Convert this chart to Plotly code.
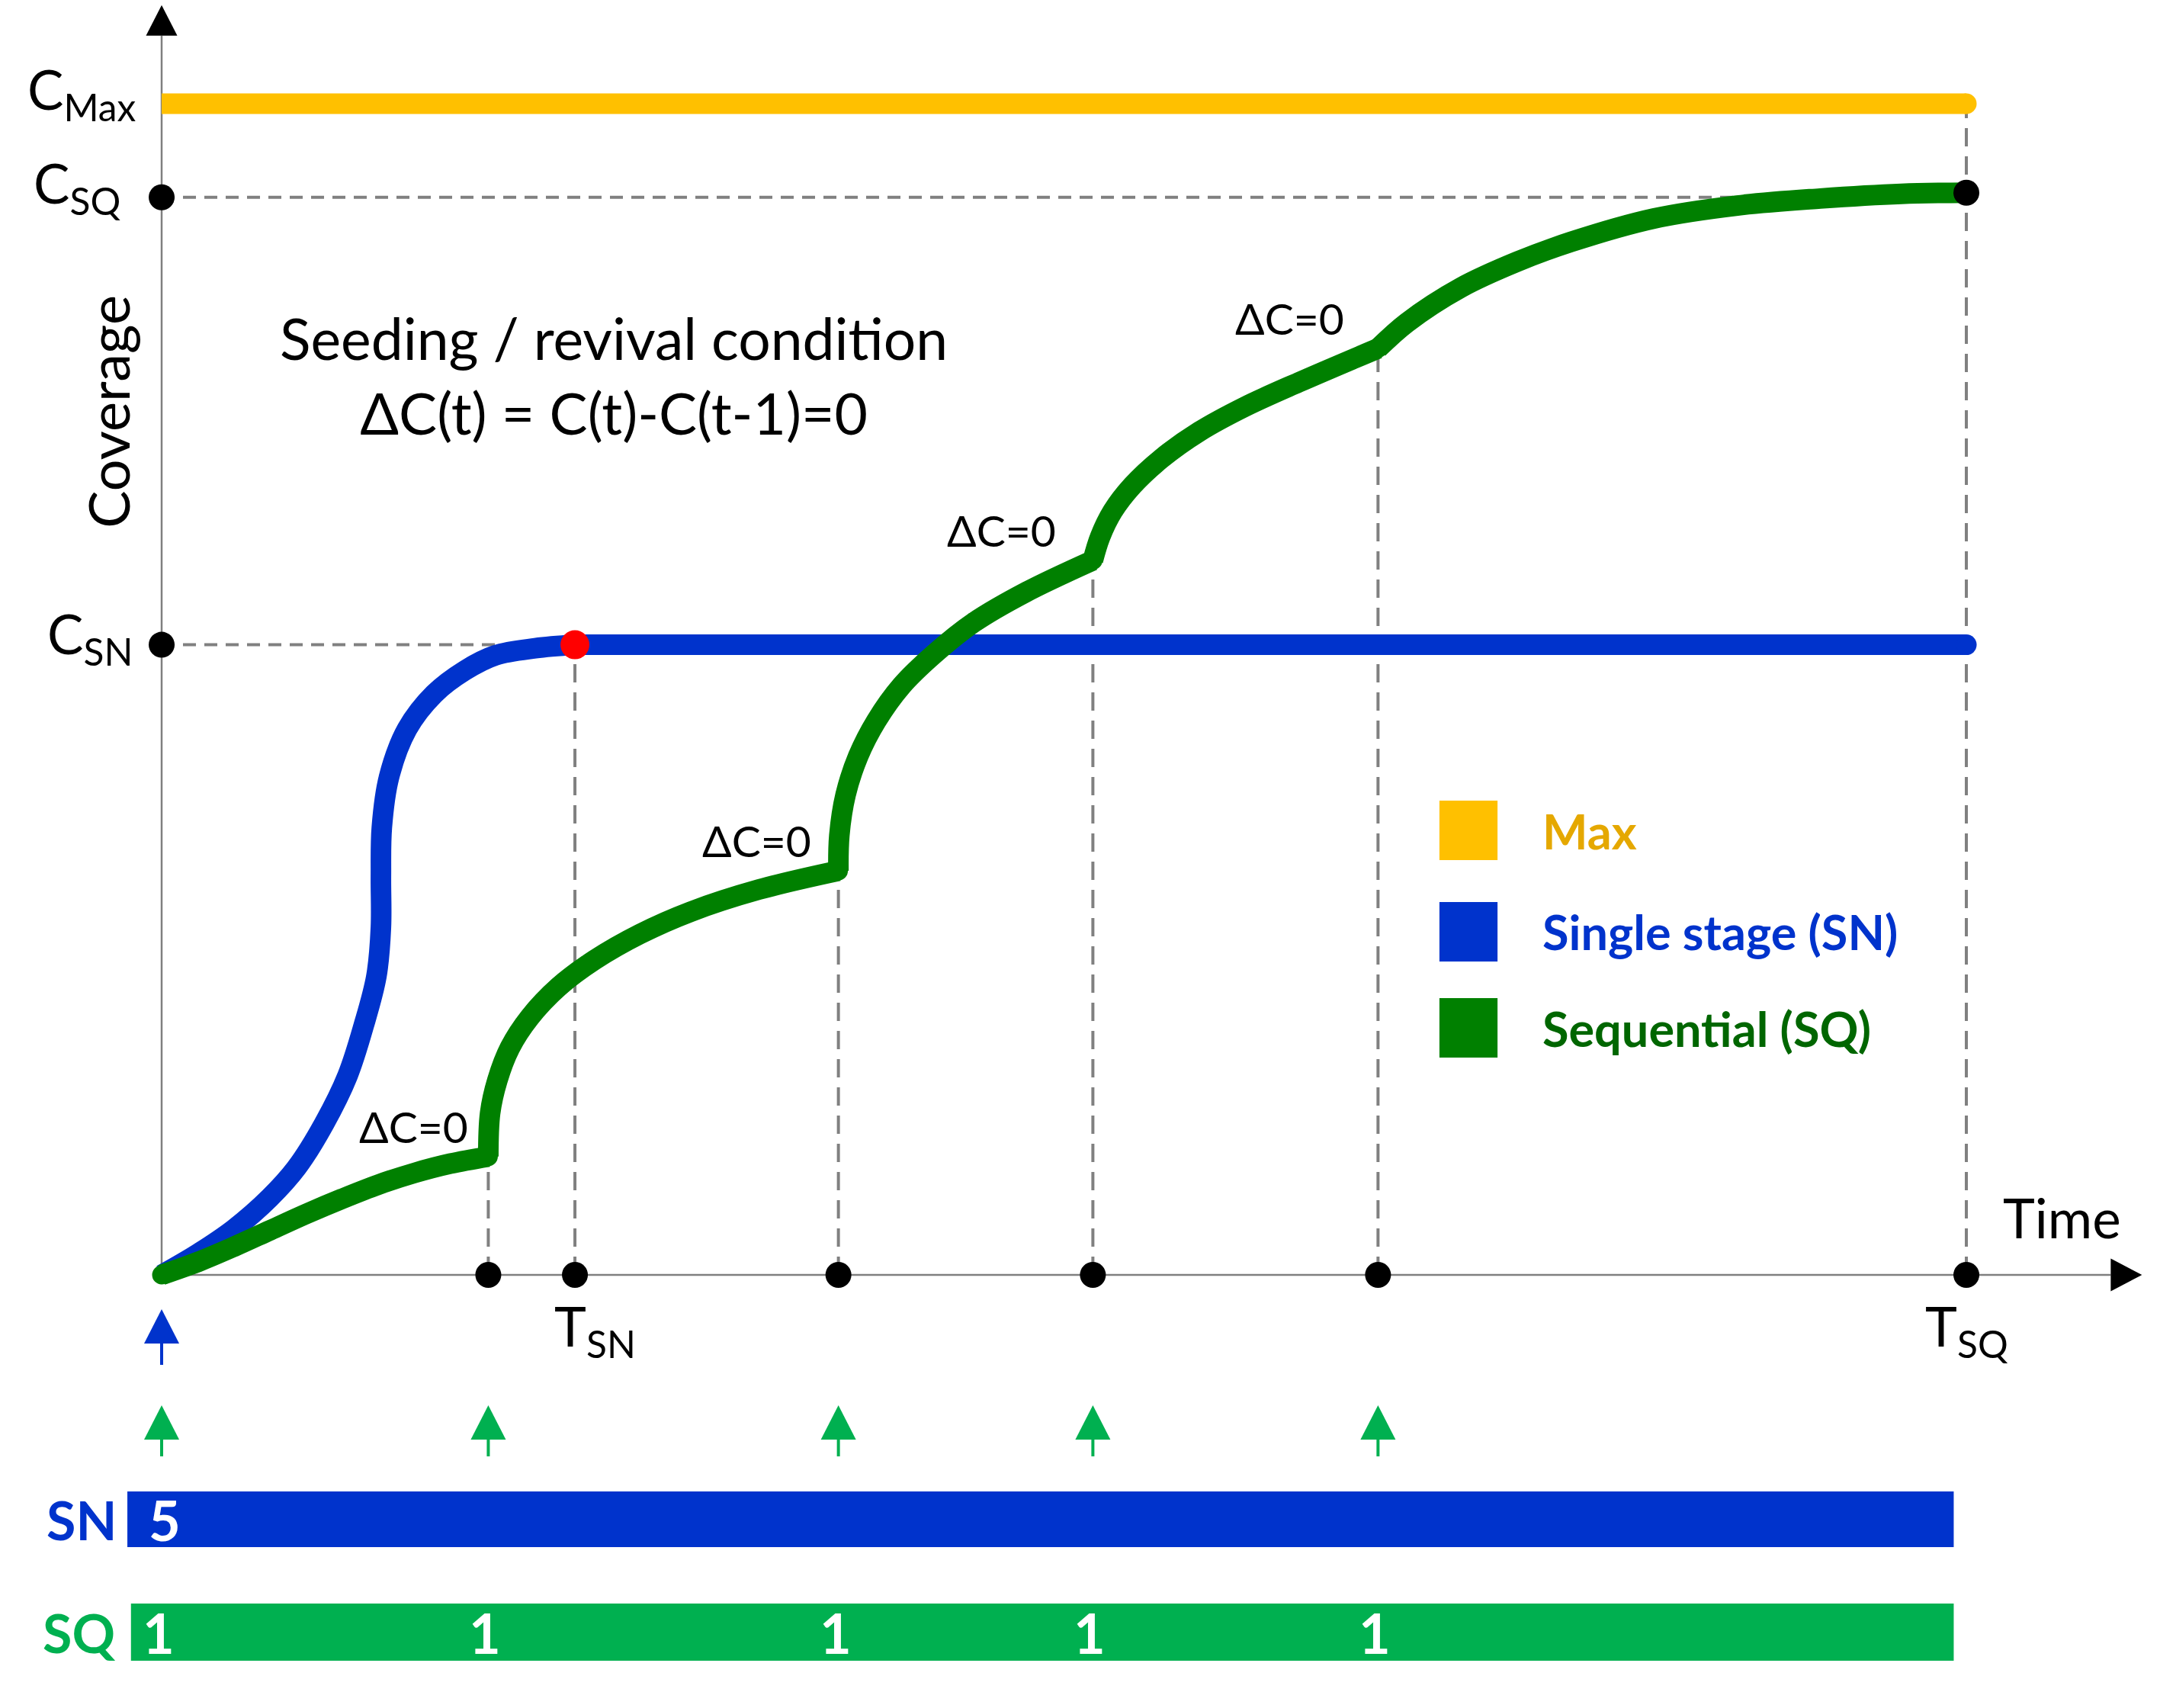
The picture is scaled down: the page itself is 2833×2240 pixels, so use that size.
import plotly.graph_objects as go

# coverage levels (C_Max = 100) and times (T_SQ = 100), arbitrary units
C_MAX = 100.0
C_SQ = 92.0
C_SN = 53.8
T_SN = 22.9
T_SQ = 100.0

max_t = [0.0, T_SQ]
max_c = [C_MAX, C_MAX]

# single stage (SN) coverage curve
sn_t = [0.0, 2.0, 4.0, 6.0, 7.5, 9.0, 10.3, 11.2, 11.9, 12.15, 12.15,
        12.2, 12.6, 13.6, 15.1, 16.8, 18.5, 20.7, 22.9, 100.0]
sn_c = [0.0, 1.8, 3.9, 6.6, 9.2, 12.9, 17.0, 21.3, 25.5, 29.7, 34.0,
        38.2, 42.5, 46.6, 49.6, 51.6, 52.9, 53.5, 53.8, 53.8]

# sequential (SQ) coverage curve
sq_t = [0.0, 2.0, 4.0, 6.0, 8.0, 10.0, 12.0, 14.0, 16.0, 18.1,
        18.2, 18.6, 19.3, 20.4, 22.0, 24.0, 26.5, 29.3, 33.1, 37.5,
        37.55, 37.9, 38.6, 39.6, 41.0, 42.8, 45.0, 47.9, 51.6,
        52.0, 52.7, 53.8, 55.4, 57.5, 60.0, 63.0, 67.4,
        69.0, 72.0, 75.1, 78.1, 82.7, 87.3, 91.9, 96.4, 100.0]
sq_c = [0.0, 1.1, 2.4, 3.8, 5.2, 6.5, 7.7, 8.7, 9.5, 10.1,
        13.8, 16.6, 19.4, 22.0, 24.6, 26.9, 29.1, 31.0, 32.9, 34.5,
        37.5, 41.0, 44.3, 47.3, 50.3, 53.0, 55.7, 58.3, 61.0,
        63.0, 65.2, 67.4, 69.7, 72.0, 74.1, 76.2, 79.1,
        81.3, 84.3, 86.5, 88.2, 90.2, 91.3, 91.9, 92.3, 92.4]

# revival points where dC = 0
revival_t = [18.1, 37.5, 51.6, 67.4]
revival_c = [10.1, 34.5, 61.0, 79.1]

# seeding schedule
sn_seed_t = [0.0]
sn_seed_n = [5]
sq_seed_t = [0.0, 18.1, 37.5, 51.6, 67.4]
sq_seed_n = [1, 1, 1, 1, 1]
run_start = -1.9
run_end = 99.3

legend_labels = ["Max", "Single stage (SN)", "Sequential (SQ)"]

YELLOW = "#FFC000"
BLUE = "#0033CC"
GREEN = "#008000"
LIGHT_GREEN = "#00B050"
GREY = "#808080"
FONT = "Lato"

W, H = 2833, 2240
XR = [-8.957, 110.73]
YR = [-36.98, 108.85]
Y_AXIS_TOP = 105.8
X_AXIS_END = 108.0
LW = 27

fig = go.Figure()

fig.add_trace(go.Scatter(x=max_t, y=max_c, mode="lines",
                         line=dict(color=YELLOW, width=LW)))
fig.add_trace(go.Scatter(x=max_t[-1:], y=max_c[-1:], mode="markers",
                         marker=dict(color=YELLOW, size=LW)))

# SN: smooth rise up to T_SN, then flat plateau
fig.add_trace(go.Scatter(x=sn_t[:-1], y=sn_c[:-1], mode="lines", line_shape="spline",
                         line=dict(color=BLUE, width=LW, smoothing=1.0)))
fig.add_trace(go.Scatter(x=sn_t[-2:], y=sn_c[-2:], mode="lines",
                         line=dict(color=BLUE, width=LW)))
fig.add_trace(go.Scatter(x=sn_t[-1:], y=sn_c[-1:], mode="markers",
                         marker=dict(color=BLUE, size=LW)))

# each growth stage of SQ is smooth, the curve kinks at every revival
cuts = [0] + [sq_t.index(t) for t in revival_t] + [len(sq_t) - 1]
for a, b in zip(cuts[:-1], cuts[1:]):
    fig.add_trace(go.Scatter(x=sq_t[a:b + 1], y=sq_c[a:b + 1], mode="lines",
                             line_shape="spline",
                             line=dict(color=GREEN, width=LW, smoothing=1.0)))
fig.add_trace(go.Scatter(x=[sq_t[0]] + revival_t, y=[sq_c[0]] + revival_c, mode="markers",
                         marker=dict(color=GREEN, size=LW - 2)))

axis_dots_t = revival_t + [T_SN, T_SQ]
fig.add_trace(go.Scatter(x=axis_dots_t + [0, 0, T_SQ],
                         y=[0] * len(axis_dots_t) + [C_SQ, C_SN, sq_c[-1]],
                         mode="markers", marker=dict(color="black", size=34)))
fig.add_trace(go.Scatter(x=[T_SN], y=[C_SN], mode="markers",
                         marker=dict(color="red", size=38)))

shapes = []


def dashed(x0, y0, x1, y1, dash):
    shapes.append(dict(type="line", xref="x", yref="y", x0=x0, y0=y0, x1=x1, y1=y1,
                       line=dict(color=GREY, width=4, dash=dash), layer="below"))


dashed(0, C_SQ, T_SQ, C_SQ, "17px,11px")
dashed(0, C_SN, T_SN, C_SN, "17px,11px")
for t, c in zip(revival_t, revival_c):
    dashed(t, 0, t, c, "24px,13px")
dashed(T_SN, 0, T_SN, C_SN, "24px,13px")
dashed(T_SQ, 0, T_SQ, C_MAX, "24px,13px")

# axes
shapes.append(dict(type="line", xref="x", yref="y", x0=0, y0=0, x1=0, y1=Y_AXIS_TOP,
                   line=dict(color="#7F7F7F", width=2.5), layer="below"))
shapes.append(dict(type="line", xref="x", yref="y", x0=0, y0=0, x1=X_AXIS_END, y1=0,
                   line=dict(color="#7F7F7F", width=2.5), layer="below"))
shapes.append(dict(type="path", xref="x", yref="y", xsizemode="pixel", ysizemode="pixel",
                   xanchor=0, yanchor=Y_AXIS_TOP, path="M -20.5,0 L 20.5,0 L 0,40 Z",
                   fillcolor="black", line=dict(width=0)))
shapes.append(dict(type="path", xref="x", yref="y", xsizemode="pixel", ysizemode="pixel",
                   xanchor=X_AXIS_END, yanchor=0, path="M 0,21.5 L 0,-21.5 L 41,0 Z",
                   fillcolor="black", line=dict(width=0)))


def seed_arrow(t, color, tip, base, bottom):
    shapes.append(dict(type="path", xref="x", yref="y", xsizemode="pixel", ysizemode="pixel",
                       xanchor=t, yanchor=0,
                       path=f"M -23,{base} L 23,{base} L 0,{tip} Z",
                       fillcolor=color, line=dict(width=0)))
    shapes.append(dict(type="line", xref="x", yref="y", xsizemode="pixel", ysizemode="pixel",
                       xanchor=t, yanchor=0, x0=0, x1=0, y0=base, y1=bottom,
                       line=dict(color=color, width=4)))


for t in sn_seed_t:
    seed_arrow(t, BLUE, -45, -90, -118)
for t in sq_seed_t:
    seed_arrow(t, LIGHT_GREEN, -171, -216, -238)

# seeding bars
shapes.append(dict(type="rect", xref="x", yref="y", ysizemode="pixel", yanchor=0,
                   x0=run_start, x1=run_end, y0=-284, y1=-357,
                   fillcolor=BLUE, line=dict(width=0)))
shapes.append(dict(type="rect", xref="x", yref="y", ysizemode="pixel", yanchor=0,
                   x0=run_start + 0.2, x1=run_end, y0=-431, y1=-506,
                   fillcolor=LIGHT_GREEN, line=dict(width=0)))

# legend boxes
leg_colors = [YELLOW, BLUE, GREEN]
leg_text_colors = ["#E5A800", BLUE, "#006600"]
leg_y = [0.5138, 0.4545, 0.3982]
for yc, col in zip(leg_y, leg_colors):
    shapes.append(dict(type="rect", xref="paper", yref="paper",
                       x0=0.6664, x1=0.6933, y0=yc - 0.0174, y1=yc + 0.0174,
                       fillcolor=col, line=dict(width=0)))

ann = []


def text(x, y, s, size, color="black", weight="normal", **kw):
    d = dict(x=x, y=y, xref="x", yref="y", text=s, showarrow=False,
             font=dict(family=FONT, size=size, color=color, weight=weight))
    d.update(kw)
    ann.append(d)


text(0, C_MAX, "C<sub>Max</sub>", 71, xanchor="right", yanchor="middle", xshift=-31, yshift=14)
text(0, C_SQ, "C<sub>SQ</sub>", 71, xanchor="right", yanchor="middle", xshift=-52, yshift=14)
text(0, C_SN, "C<sub>SN</sub>", 71, xanchor="right", yanchor="middle", xshift=-36, yshift=10)
text(T_SN, 0, "T<sub>SN</sub>", 71, xanchor="center", yanchor="top", xshift=26, yshift=-22)
text(T_SQ, 0, "T<sub>SQ</sub>", 71, xanchor="center", yanchor="top", yshift=-22)
text(105.3, 4.9, "Time", 71)
text(-2.96, 73.7, "Coverage", 74, textangle=-90)
text(25.05, 76.8, "Seeding / revival condition<br>ΔC(t) = C(t)-C(t-1)=0", 75, align="center")
label_dx = [-24, -34, -46, -42]
for t, c, dx in zip(revival_t, revival_c, label_dx):
    text(t, c, "ΔC=0", 57, xanchor="right", yanchor="bottom", xshift=dx, yshift=4)

for t, n in zip(sn_seed_t, sn_seed_n):
    text(t, 0, str(n), 72, "white", "bold", yshift=-321, xshift=4)
for t, n in zip(sq_seed_t, sq_seed_n):
    text(t, 0, str(n), 72, "white", "bold", yshift=-469, xshift=-4)
text(run_start, 0, "SN", 70, BLUE, "bold", xanchor="right", yshift=-321, xshift=-12)
text(run_start, 0, "SQ", 70, LIGHT_GREEN, "bold", xanchor="right", yshift=-469, xshift=-14)

for lab, yc, col in zip(legend_labels, leg_y, leg_text_colors):
    ann.append(dict(x=0.7134, y=yc, xref="paper", yref="paper", text=lab, showarrow=False,
                    xanchor="left", yanchor="middle",
                    font=dict(family=FONT, size=63, color=col, weight="bold")))

fig.update_layout(width=W, height=H, margin=dict(l=0, r=0, t=0, b=0),
                  paper_bgcolor="white", plot_bgcolor="white", showlegend=False,
                  xaxis=dict(range=XR, visible=False, fixedrange=True),
                  yaxis=dict(range=YR, visible=False, fixedrange=True),
                  shapes=shapes, annotations=ann)

fig.write_html("out.html", config={"displayModeBar": False},
               post_script="document.body.style.margin='0';")
